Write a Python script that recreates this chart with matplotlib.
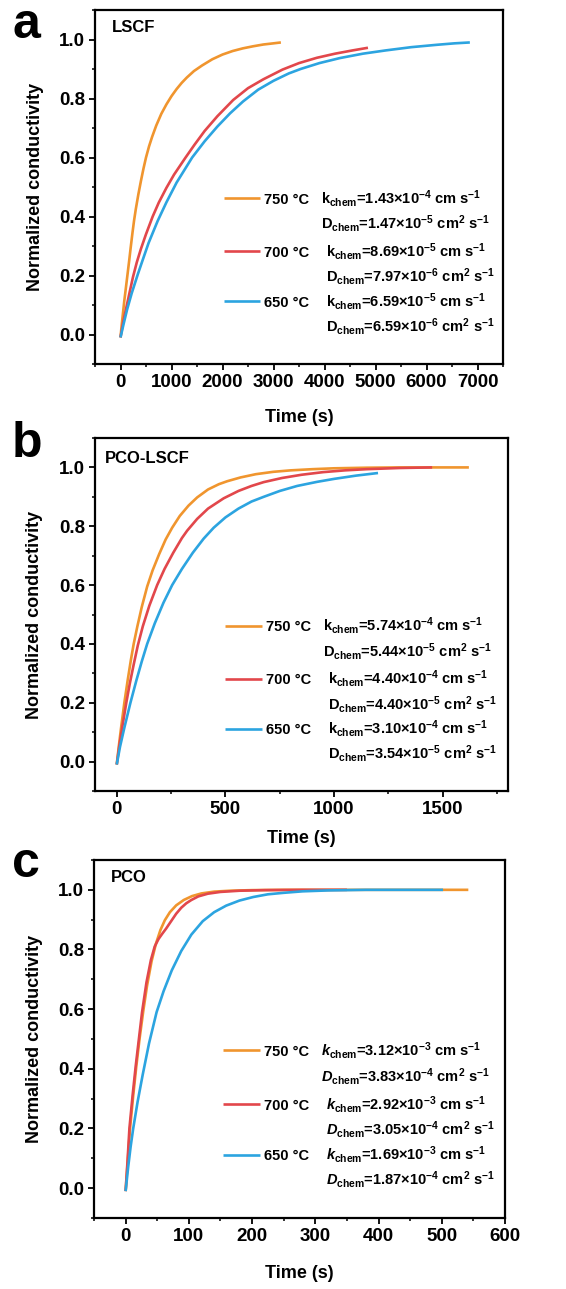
import matplotlib
matplotlib.use("Agg")
import matplotlib.pyplot as plt
from matplotlib.ticker import MultipleLocator, AutoMinorLocator, FormatStrFormatter

ORANGE = "#F0952E"; RED = "#E2474B"; BLUE = "#2CA4E0"
plt.rcParams.update({
    "font.family": "Liberation Sans", "font.weight": "bold",
    "mathtext.fontset": "custom", "mathtext.rm": "Liberation Sans:bold",
    "mathtext.it": "Liberation Sans:bold:italic", "mathtext.bf": "Liberation Sans:bold",
    "mathtext.default": "rm",
})

temps = ["750 °C", "700 °C", "650 °C"]

# panel a: LSCF
a_t750 = [0, 25, 50, 75, 100, 135, 170, 200, 235, 265, 300, 350, 400, 450, 500, 560, 620, 700, 800, 900,
          1000, 1100, 1200, 1300, 1440, 1600, 1800, 2000, 2200, 2400, 2600, 2800, 3000, 3145]
a_y750 = [-0.01, 0.035, 0.075, 0.115, 0.15, 0.20, 0.25, 0.295, 0.345, 0.385, 0.425, 0.475, 0.52, 0.562, 0.60,
          0.638, 0.670, 0.708, 0.748, 0.780, 0.808, 0.832, 0.853, 0.871, 0.893, 0.912, 0.933, 0.949, 0.961,
          0.970, 0.977, 0.983, 0.987, 0.99]
a_t700 = [0, 50, 100, 175, 245, 320, 400, 500, 631, 750, 900, 1050, 1276, 1450, 1650, 1900, 2210, 2500,
          2800, 3177, 3500, 3850, 4208, 4550, 4852]
a_y700 = [-0.01, 0.04, 0.08, 0.14, 0.195, 0.245, 0.29, 0.34, 0.40, 0.447, 0.497, 0.542, 0.60, 0.643, 0.69,
          0.74, 0.795, 0.835, 0.865, 0.898, 0.92, 0.938, 0.952, 0.963, 0.972]
a_t650 = [0, 60, 130, 220, 341, 430, 550, 729, 900, 1100, 1405, 1650, 1900, 2150, 2403, 2700, 3000, 3300,
          3531, 3900, 4300, 4755, 5200, 5700, 6200, 6550, 6850]
a_y650 = [-0.01, 0.035, 0.085, 0.14, 0.205, 0.25, 0.31, 0.385, 0.448, 0.515, 0.60, 0.655, 0.705, 0.75, 0.79,
          0.83, 0.86, 0.885, 0.90, 0.92, 0.937, 0.952, 0.963, 0.974, 0.982, 0.987, 0.99]
a_k = ["1.43×10$^{-4}$", "8.69×10$^{-5}$", "6.59×10$^{-5}$"]
a_D = ["1.47×10$^{-5}$", "7.97×10$^{-6}$", "6.59×10$^{-6}$"]

# panel b: PCO-LSCF
b_t750 = [0, 10, 20, 35, 50, 65, 78, 95, 115, 140, 165, 195, 225, 255, 290, 330, 370, 420, 470, 508, 570,
          640, 720, 800, 900, 1000, 1150, 1300, 1620]
b_y750 = [-0.01, 0.055, 0.115, 0.20, 0.275, 0.345, 0.40, 0.46, 0.525, 0.595, 0.65, 0.705, 0.755, 0.795,
          0.835, 0.87, 0.898, 0.925, 0.943, 0.953, 0.966, 0.977, 0.985, 0.99, 0.994, 0.997, 0.999, 1.0, 1.0]
b_t700 = [0, 12, 25, 44, 60, 78, 97, 120, 150, 186, 220, 260, 300, 324, 370, 420, 492, 560, 620, 676, 760,
          850, 950, 1050, 1150, 1300, 1451]
b_y700 = [-0.01, 0.055, 0.115, 0.20, 0.265, 0.33, 0.395, 0.46, 0.53, 0.60, 0.655, 0.71, 0.76, 0.785, 0.825,
          0.86, 0.895, 0.92, 0.937, 0.95, 0.964, 0.975, 0.984, 0.99, 0.994, 0.998, 1.0]
b_t650 = [0, 15, 35, 63, 90, 115, 140, 175, 215, 255, 300, 350, 400, 446, 500, 560, 620, 676, 750, 830,
          922, 1000, 1100, 1202]
b_y650 = [-0.01, 0.05, 0.115, 0.20, 0.275, 0.34, 0.40, 0.47, 0.54, 0.60, 0.655, 0.71, 0.758, 0.795, 0.83,
          0.86, 0.884, 0.90, 0.92, 0.937, 0.951, 0.961, 0.972, 0.981]
b_k = ["5.74×10$^{-4}$", "4.40×10$^{-4}$", "3.10×10$^{-4}$"]
b_D = ["5.44×10$^{-5}$", "4.40×10$^{-5}$", "3.54×10$^{-5}$"]

# panel c: PCO
c_t750 = [0, 3, 7, 12, 17, 22, 28, 34, 41, 48, 55, 62, 70, 80, 92, 105, 120, 140, 165, 200, 250, 542]
c_y750 = [-0.01, 0.08, 0.20, 0.31, 0.41, 0.50, 0.595, 0.68, 0.76, 0.82, 0.865, 0.898, 0.925, 0.948, 0.966,
          0.979, 0.988, 0.994, 0.997, 0.999, 1.0, 1.0]
c_t700 = [0, 3, 6, 11, 16, 21, 26, 33, 40, 46, 52, 58, 64, 72, 80, 88, 96, 104, 115, 130, 150, 180, 220,
          280, 350]
c_y700 = [-0.01, 0.09, 0.20, 0.31, 0.41, 0.50, 0.59, 0.69, 0.765, 0.81, 0.835, 0.853, 0.87, 0.895, 0.92,
          0.94, 0.955, 0.966, 0.978, 0.987, 0.993, 0.997, 0.999, 1.0, 1.0]
c_t650 = [0, 4, 8, 12, 19, 27, 37, 49, 60, 73, 88, 104, 122, 140, 159, 180, 202, 225, 250, 280, 320, 380, 502]
c_y650 = [-0.01, 0.07, 0.14, 0.20, 0.29, 0.38, 0.485, 0.59, 0.66, 0.73, 0.795, 0.85, 0.895, 0.925, 0.947,
          0.964, 0.976, 0.985, 0.99, 0.995, 0.998, 1.0, 1.0]
c_k = ["3.12×10$^{-3}$", "2.92×10$^{-3}$", "1.69×10$^{-3}$"]
c_D = ["3.83×10$^{-4}$", "3.05×10$^{-4}$", "1.87×10$^{-4}$"]

W, H = 566, 1289
fig = plt.figure(figsize=(W / 100, H / 100), dpi=100)

def px_axes(l, t, r, b):
    return fig.add_axes([l / W, 1 - b / H, (r - l) / W, (b - t) / H])

def panel(ax, curves, name, letter, kvals, dvals, xlim, xmaj, italic, xlab_y, name_xy, letter_xy):
    for (t, y), c in zip(curves, [ORANGE, RED, BLUE]):
        ax.plot(t, y, color=c, lw=1.9, solid_capstyle="butt", solid_joinstyle="round")
    ax.set_xlim(*xlim); ax.set_ylim(-0.1, 1.1)
    ax.xaxis.set_major_locator(MultipleLocator(xmaj)); ax.xaxis.set_minor_locator(AutoMinorLocator(2))
    ax.set_yticks([0, 0.2, 0.4, 0.6, 0.8, 1.0]); ax.yaxis.set_minor_locator(AutoMinorLocator(2))
    ax.yaxis.set_major_formatter(FormatStrFormatter("%.1f"))
    for sp in ax.spines.values(): sp.set_linewidth(1.6)
    ax.tick_params(which="major", direction="out", length=4, width=1.3, labelsize=13.5, pad=3)
    ax.tick_params(which="minor", direction="out", length=2.5, width=1.1)
    ax.tick_params(top=False, right=False, which="both")
    ax.set_xlabel("Time (s)", fontsize=13, fontweight="bold")
    ax.set_ylabel("Normalized conductivity", fontsize=13, fontweight="bold")
    ax.xaxis.set_label_coords(0.5, xlab_y); ax.xaxis.label.set_va("top")
    ax.yaxis.set_label_coords(-0.125, 0.5)
    ax.text(name_xy[0], name_xy[1], name, transform=ax.transAxes, fontsize=12, fontweight="bold", va="center")
    fig.text(letter_xy[0] / W, 1 - letter_xy[1] / H, letter, fontsize=36, fontweight="bold", va="baseline")
    sym_k = r"$\mathit{k}_{\mathrm{chem}}$" if italic else r"$\mathrm{k_{chem}}$"
    sym_d = r"$\mathit{D}_{\mathrm{chem}}$" if italic else r"$\mathrm{D_{chem}}$"
    rows = [0.468, 0.397, 0.318, 0.247, 0.177, 0.107]
    for i, c in enumerate([ORANGE, RED, BLUE]):
        yk, yd = rows[2 * i], rows[2 * i + 1]
        ax.plot([0.315, 0.405], [yk, yk], color=c, lw=1.9, transform=ax.transAxes, solid_capstyle="butt")
        ax.text(0.413, yk - 0.015, temps[i], transform=ax.transAxes, fontsize=10.5, va="baseline")
        xs = 0.553 if i == 0 else 0.565
        ax.text(xs, yk - 0.015, sym_k + "=" + kvals[i] + r" cm s$^{-1}$", transform=ax.transAxes,
                fontsize=10.5, va="baseline")
        ax.text(xs, yd - 0.015, sym_d + "=" + dvals[i] + r" cm$^{2}$ s$^{-1}$", transform=ax.transAxes,
                fontsize=10.5, va="baseline")

ax_a = px_axes(95, 10, 503, 364)
panel(ax_a, [(a_t750, a_y750), (a_t700, a_y700), (a_t650, a_y650)], "LSCF", "a", a_k, a_D,
      (-500, 7500), 1000, False, -0.128, (0.041, 0.95), (12, 38))
ax_b = px_axes(95, 438, 508, 791)
panel(ax_b, [(b_t750, b_y750), (b_t700, b_y700), (b_t650, b_y650)], "PCO-LSCF", "b", b_k, b_D,
      (-100, 1800), 500, False, -0.110, (0.025, 0.943), (12, 457))
ax_c = px_axes(94, 860, 505, 1218)
panel(ax_c, [(c_t750, c_y750), (c_t700, c_y700), (c_t650, c_y650)], "PCO", "c", c_k, c_D,
      (-50, 600), 100, True, -0.131, (0.042, 0.95), (12, 877))

fig.savefig("out.png", dpi=100, facecolor="white")
